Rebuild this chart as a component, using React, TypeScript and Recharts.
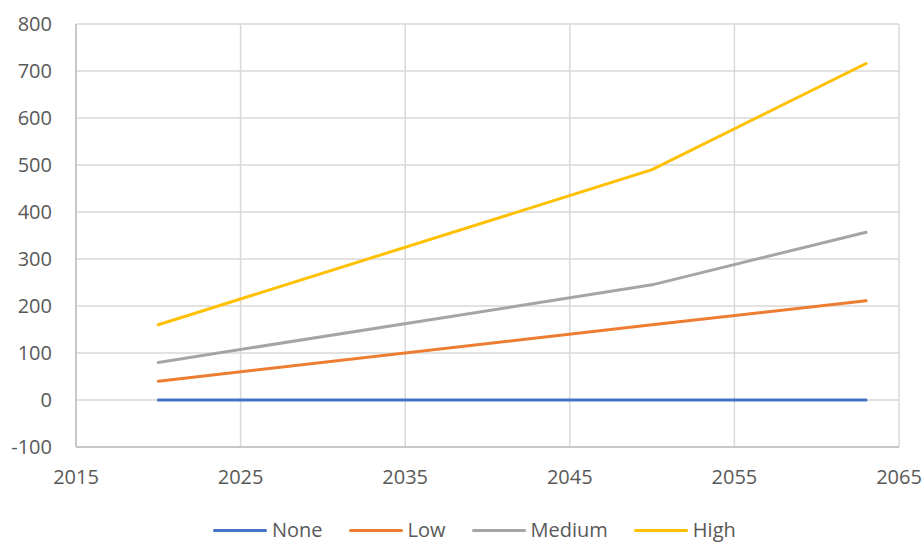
import { LineChart, Line, XAxis, YAxis, CartesianGrid } from "recharts";

const years = [2020, 2050, 2063];
const none = [0, 0, 0];
const low = [40, 160, 211];
const medium = [80, 245, 357];
const high = [160, 490, 716];

const xTicks = [2015, 2025, 2035, 2045, 2055, 2065];
const yTicks = [-100, 0, 100, 200, 300, 400, 500, 600, 700, 800];

const series = [
  { key: "none", name: "None", color: "#4472C4" },
  { key: "low", name: "Low", color: "#ED7D31" },
  { key: "medium", name: "Medium", color: "#A5A5A5" },
  { key: "high", name: "High", color: "#FFC000" },
];

const data = years.map((year, i) => ({
  year,
  none: none[i],
  low: low[i],
  medium: medium[i],
  high: high[i],
}));

const font = "'Open Sans', sans-serif";
const tickStyle = { fill: "#595959", fontSize: 20, fontFamily: font };

export default function App() {
  return (
    <div style={{ position: "relative", width: 923, height: 542, background: "#fff", overflow: "hidden" }}>
      <style>{`body{margin:0}`}</style>
      <LineChart
        width={923}
        height={542}
        data={data}
        margin={{ top: 24, right: 24, bottom: 55, left: 0 }}
      >
        <CartesianGrid stroke="#d9d9d9" strokeWidth={1.5} />
        <XAxis
          dataKey="year"
          type="number"
          domain={[2015, 2065]}
          ticks={xTicks}
          height={40}
          tickLine={false}
          tickSize={0}
          tickMargin={23}
          axisLine={{ stroke: "#bfbfbf", strokeWidth: 1.5 }}
          tick={tickStyle}
        />
        <YAxis
          domain={[-100, 800]}
          ticks={yTicks}
          width={76}
          tickLine={false}
          tickSize={0}
          tickMargin={24}
          axisLine={{ stroke: "#bfbfbf", strokeWidth: 1.5 }}
          tick={tickStyle}
        />
        {series.map((s) => (
          <Line
            key={s.key}
            dataKey={s.key}
            name={s.name}
            type="linear"
            stroke={s.color}
            strokeWidth={3}
            strokeLinecap="round"
            dot={false}
            activeDot={false}
            isAnimationActive={false}
          />
        ))}
      </LineChart>
      <div
        style={{
          position: "absolute",
          left: 213,
          top: 518,
          display: "flex",
          alignItems: "center",
          fontFamily: font,
          fontSize: 20,
          color: "#595959",
          lineHeight: "24px",
        }}
      >
        {series.map((s) => (
          <div key={s.key} style={{ display: "flex", alignItems: "center", marginRight: 26 }}>
            <span
              style={{
                display: "inline-block",
                width: 54,
                height: 3,
                borderRadius: 2,
                background: s.color,
                marginRight: 5,
              }}
            />
            <span>{s.name}</span>
          </div>
        ))}
      </div>
    </div>
  );
}
